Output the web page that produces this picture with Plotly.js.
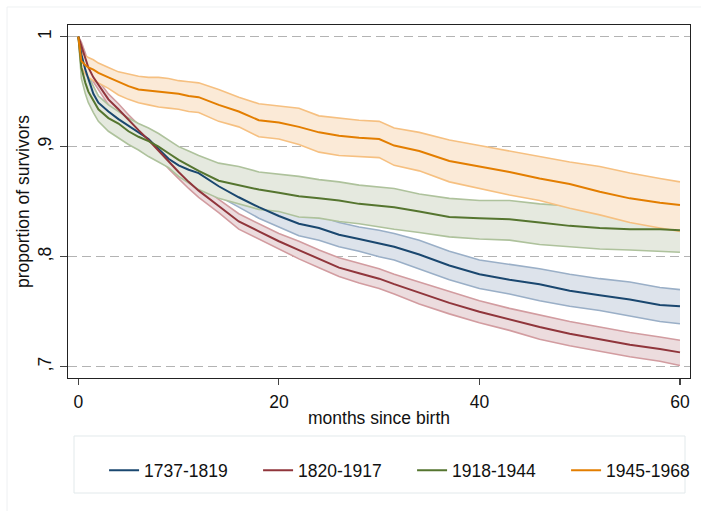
<!DOCTYPE html>
<html>
<head>
<meta charset="utf-8">
<script src="https://cdn.plot.ly/plotly-3.0.1.min.js"></script>
<style>
  html, body { margin: 0; padding: 0; background: #fff; }
  #chart { width: 701px; height: 511px; }
</style>
</head>
<body>
<div id="chart"></div>
<script>
// months since birth
var months = [0, 0.3, 0.7, 1, 1.5, 2, 3, 4, 5, 6, 7, 8, 9, 10, 11, 12, 14, 16, 18, 20, 22, 24, 26, 28, 30, 31.5, 34, 37, 40, 43, 46, 49, 52, 55, 58, 60];

// 1737-1819
var blueMean  = [1.0, 0.984, 0.970, 0.962, 0.948, 0.940, 0.932, 0.925, 0.919, 0.913, 0.907, 0.898, 0.889, 0.883, 0.879, 0.876, 0.864, 0.854, 0.845, 0.837, 0.830, 0.826, 0.820, 0.816, 0.812, 0.809, 0.802, 0.792, 0.784, 0.779, 0.775, 0.769, 0.765, 0.761, 0.756, 0.755];
var blueUpper = [1.0, 0.988, 0.975, 0.967, 0.954, 0.946, 0.938, 0.931, 0.925, 0.920, 0.914, 0.906, 0.897, 0.891, 0.887, 0.884, 0.873, 0.863, 0.855, 0.847, 0.841, 0.837, 0.831, 0.827, 0.824, 0.821, 0.815, 0.805, 0.797, 0.793, 0.789, 0.784, 0.780, 0.777, 0.772, 0.770];
var blueLower = [1.0, 0.980, 0.965, 0.957, 0.942, 0.934, 0.926, 0.919, 0.913, 0.906, 0.900, 0.890, 0.881, 0.875, 0.871, 0.868, 0.855, 0.845, 0.835, 0.827, 0.819, 0.815, 0.809, 0.805, 0.800, 0.797, 0.789, 0.779, 0.771, 0.766, 0.760, 0.755, 0.751, 0.746, 0.741, 0.739];

// 1820-1917
var redMean  = [1.0, 0.992, 0.981, 0.972, 0.963, 0.956, 0.943, 0.934, 0.924, 0.915, 0.906, 0.896, 0.886, 0.877, 0.868, 0.860, 0.846, 0.832, 0.823, 0.814, 0.806, 0.798, 0.790, 0.785, 0.780, 0.775, 0.767, 0.758, 0.750, 0.743, 0.736, 0.730, 0.725, 0.720, 0.716, 0.713];
var redUpper = [1.0, 0.995, 0.985, 0.976, 0.967, 0.960, 0.948, 0.939, 0.929, 0.920, 0.911, 0.902, 0.892, 0.883, 0.874, 0.866, 0.852, 0.839, 0.830, 0.821, 0.814, 0.806, 0.799, 0.794, 0.789, 0.784, 0.777, 0.768, 0.760, 0.753, 0.747, 0.741, 0.736, 0.731, 0.727, 0.724];
var redLower = [1.0, 0.989, 0.977, 0.968, 0.959, 0.952, 0.938, 0.929, 0.919, 0.910, 0.901, 0.890, 0.880, 0.871, 0.862, 0.854, 0.840, 0.825, 0.816, 0.807, 0.798, 0.790, 0.782, 0.776, 0.771, 0.766, 0.757, 0.748, 0.740, 0.733, 0.725, 0.719, 0.714, 0.709, 0.705, 0.701];

// 1918-1944
var greenMean  = [1.0, 0.972, 0.958, 0.950, 0.942, 0.934, 0.926, 0.921, 0.914, 0.909, 0.905, 0.900, 0.894, 0.888, 0.883, 0.878, 0.869, 0.865, 0.861, 0.858, 0.855, 0.853, 0.851, 0.848, 0.846, 0.845, 0.841, 0.836, 0.835, 0.834, 0.831, 0.828, 0.826, 0.825, 0.825, 0.824];
var greenUpper = [1.0, 0.985, 0.970, 0.963, 0.955, 0.946, 0.938, 0.932, 0.926, 0.921, 0.917, 0.912, 0.906, 0.900, 0.896, 0.892, 0.885, 0.882, 0.877, 0.875, 0.873, 0.870, 0.868, 0.865, 0.863, 0.862, 0.857, 0.853, 0.851, 0.851, 0.848, 0.846, 0.845, 0.844, 0.843, 0.843];
var greenLower = [1.0, 0.962, 0.948, 0.940, 0.931, 0.923, 0.914, 0.908, 0.902, 0.897, 0.891, 0.886, 0.881, 0.873, 0.867, 0.861, 0.853, 0.848, 0.843, 0.841, 0.836, 0.835, 0.832, 0.830, 0.827, 0.825, 0.822, 0.818, 0.816, 0.815, 0.811, 0.809, 0.807, 0.806, 0.805, 0.804];

// 1945-1968
var orangeMean  = [1.0, 0.978, 0.974, 0.972, 0.970, 0.967, 0.963, 0.959, 0.955, 0.952, 0.951, 0.950, 0.949, 0.948, 0.946, 0.945, 0.938, 0.932, 0.924, 0.922, 0.918, 0.913, 0.910, 0.908, 0.907, 0.901, 0.896, 0.887, 0.882, 0.877, 0.871, 0.866, 0.859, 0.853, 0.849, 0.847];
var orangeUpper = [1.0, 0.985, 0.983, 0.981, 0.979, 0.976, 0.972, 0.968, 0.966, 0.964, 0.963, 0.963, 0.962, 0.960, 0.959, 0.958, 0.952, 0.945, 0.939, 0.937, 0.935, 0.928, 0.926, 0.924, 0.923, 0.917, 0.913, 0.906, 0.901, 0.896, 0.891, 0.886, 0.882, 0.876, 0.871, 0.868];
var orangeLower = [1.0, 0.972, 0.966, 0.963, 0.960, 0.958, 0.953, 0.947, 0.943, 0.940, 0.938, 0.936, 0.935, 0.934, 0.932, 0.931, 0.923, 0.918, 0.909, 0.907, 0.902, 0.895, 0.892, 0.891, 0.890, 0.883, 0.878, 0.868, 0.862, 0.856, 0.851, 0.844, 0.838, 0.831, 0.826, 0.823];

var seriesNames = ['1737-1819', '1820-1917', '1918-1944', '1945-1968'];
var yTickVals = [0.7, 0.8, 0.9, 1];
var yTickText = [',7', ',8', ',9', '1'];
var xTickVals = [0, 20, 40, 60];

var groups = [
  {name: seriesNames[0], mean: blueMean,   up: blueUpper,   lo: blueLower,   line: '#1a476f', band: '#9aafc7', fill: '#dde3eb'},
  {name: seriesNames[1], mean: redMean,    up: redUpper,    lo: redLower,    line: '#90353b', band: '#d29ca0', fill: '#ecdcde'},
  {name: seriesNames[2], mean: greenMean,  up: greenUpper,  lo: greenLower,  line: '#55752f', band: '#aec29c', fill: '#e5e9df'},
  {name: seriesNames[3], mean: orangeMean, up: orangeUpper, lo: orangeLower, line: '#e37e00', band: '#f6c081', fill: '#fbead7'}
];

var traces = [];
groups.forEach(function (g) {
  traces.push({x: months, y: g.lo, type: 'scatter', mode: 'lines',
    line: {color: g.band, width: 1.6}, showlegend: false, hoverinfo: 'skip'});
  traces.push({x: months, y: g.up, type: 'scatter', mode: 'lines', fill: 'tonexty',
    fillcolor: g.fill, line: {color: g.band, width: 1.6}, showlegend: false, hoverinfo: 'skip'});
});
groups.forEach(function (g) {
  traces.push({x: months, y: g.mean, type: 'scatter', mode: 'lines', name: g.name,
    line: {color: g.line, width: 2}});
});

var font = 'Liberation Sans, Arial, Helvetica, sans-serif';
var yRange = [0.6897, 1.0106];

var layout = {
  width: 701, height: 511, autosize: false,
  margin: {l: 68, r: 11, t: 25, b: 133, pad: 0, autoexpand: false},
  paper_bgcolor: '#ffffff', plot_bgcolor: '#ffffff',
  font: {family: font, size: 17.5, color: '#111'},
  xaxis: {
    range: [-1.03, 61.0], tickvals: xTickVals, ticktext: xTickVals.map(String),
    showgrid: false, zeroline: false, showline: true, mirror: true,
    linecolor: '#222', linewidth: 1.2,
    ticks: 'outside', ticklen: 6, tickwidth: 1.2, tickcolor: '#444',
    ticklabelstandoff: 2,
    tickfont: {family: font, size: 17.5, color: '#111'},
    title: {text: 'months since birth', font: {family: font, size: 17.5, color: '#111'}, standoff: 0}
  },
  yaxis: {
    range: yRange, tickvals: yTickVals, showticklabels: false,
    showgrid: true, gridcolor: '#b3b3b3', gridwidth: 1.5, griddash: '9px,5px',
    zeroline: false, showline: true, mirror: true,
    linecolor: '#222', linewidth: 1.2,
    ticks: 'outside', ticklen: 7, tickwidth: 1.2, tickcolor: '#444'
  },
  yaxis2: {
    overlaying: 'y', side: 'left', anchor: 'x', matches: 'y',
    range: yRange, tickvals: yTickVals, ticktext: yTickText,
    tickangle: -90, ticks: '', showgrid: false, zeroline: false, showline: false,
    ticklabelstandoff: 13,
    tickfont: {family: font, size: 17.5, color: '#111'},
    title: {text: 'proportion of survivors', font: {family: font, size: 17.5, color: '#111'}, standoff: 0}
  },
  legend: {
    orientation: 'h', x: 0.058, xanchor: 'left', y: -0.262, yanchor: 'middle',
    bgcolor: 'rgba(0,0,0,0)', borderwidth: 0,
    entrywidth: 109, entrywidthmode: 'pixels',
    font: {family: font, size: 17.5, color: '#111'},
    traceorder: 'normal'
  },
  shapes: [
    {type: 'rect', xref: 'paper', yref: 'paper', x0: 0.00965, x1: 0.992, y0: -0.3258, y1: -0.1643,
      line: {color: '#e2e9eb', width: 1}, fillcolor: 'rgba(0,0,0,0)'},
    {type: 'rect', xref: 'paper', yref: 'paper', x0: -0.098, x1: 1.03, y0: -0.40, y1: 1.051,
      line: {color: '#eef1f2', width: 1}, fillcolor: 'rgba(0,0,0,0)', layer: 'below'}
  ],
  showlegend: true
};

// invisible trace to activate the label axis
traces.push({x: [0], y: [1], yaxis: 'y2', type: 'scatter', mode: 'markers',
  marker: {opacity: 0}, showlegend: false, hoverinfo: 'skip'});

Plotly.newPlot('chart', traces, layout, {displayModeBar: false, staticPlot: true});
</script>
</body>
</html>
